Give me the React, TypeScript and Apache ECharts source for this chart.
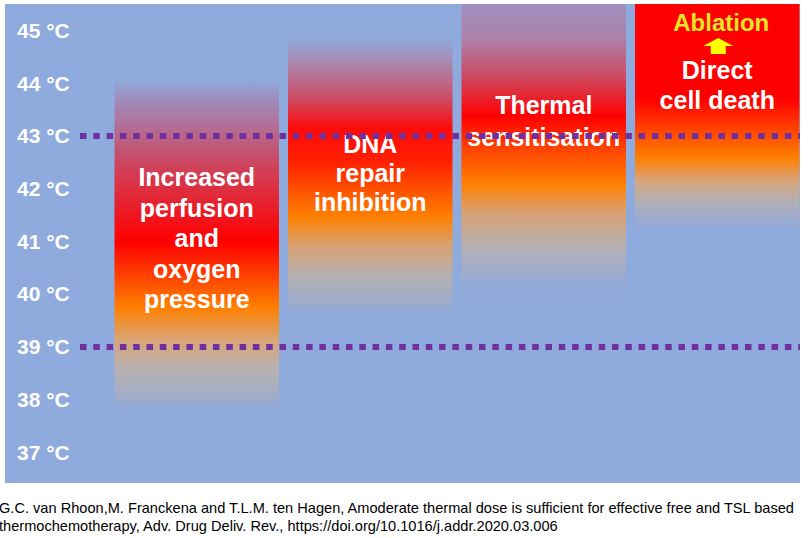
import React, { useEffect, useRef } from 'react';
import * as echarts from 'echarts';

// ---- data ----
const categories = ['Increased perfusion and oxygen pressure', 'DNA repair inhibition', 'Thermal sensitisation', 'Direct cell death'];
const barLabels = ['Increased\nperfusion\nand\noxygen\npressure', 'DNA\nrepair\ninhibition', 'Thermal\nsensitisation', 'Direct\ncell death'];
const rangeLow = [37.8, 39.64, 40.07, 41.21];
const rangeHigh = [44.06, 44.86, 45.5, 45.5];
const thresholds = [43, 39];
const yMin = 37;
const yMax = 45;
const tickUnit = '°C';
const ablationLabel = 'Ablation';
const captionLines = [
  'G.C. van Rhoon,M. Franckena and T.L.M. ten Hagen, Amoderate thermal dose is sufficient for effective free and TSL based',
  'thermochemotherapy, Adv. Drug Deliv. Rev., https://doi.org/10.1016/j.addr.2020.03.006',
];

// ---- styles ----
const BG = '#8FAADC';
const STOPS: [number, string][][] = [
  [[0, BG], [0.06, '#A08CBC'], [0.27, '#D04058'], [0.49, '#FF0000'], [0.58, '#FF3800'], [0.69, '#FF8000'], [0.79, '#D8A678'], [0.88, '#B6B2B4'], [0.95, '#A4ACC4'], [1, BG]],
  [[0, BG], [0.08, '#A88CB6'], [0.22, '#CC4C64'], [0.33, '#FF0A0A'], [0.45, '#FF2000'], [0.65, '#FF8000'], [0.76, '#D8A276'], [0.87, '#B4B0B4'], [0.95, '#A0ACC8'], [1, BG]],
  [[0, '#9E92C2'], [0.12, '#AE80A8'], [0.25, '#CC4C64'], [0.39, '#FF0000'], [0.5, '#FF4000'], [0.63, '#FF8000'], [0.73, '#D8A276'], [0.86, '#B2B0B6'], [0.94, '#9EACCC'], [1, BG]],
  [[0, '#FF0000'], [0.42, '#FF0000'], [0.55, '#FF4000'], [0.68, '#FF8000'], [0.78, '#D8A478'], [0.87, '#B4B0B4'], [0.94, '#9EACCC'], [1, BG]],
];
const LABEL_DY = [-6.5, -2.5, -26, -32];
const LINE_H = [30.5, 29, 32, 30];
const BAR_FONT = 'bold 25px "Liberation Sans", Arial, sans-serif';

export default function App() {
  const ref = useRef<HTMLDivElement>(null);
  useEffect(() => {
    if (!ref.current) return;
    const chart = echarts.init(ref.current, undefined, { renderer: 'svg' });
    const barData = categories.map((_, i) => [i, rangeLow[i], rangeHigh[i]]);
    chart.setOption({
      animation: false,
      backgroundColor: '#ffffff',
      title: {
        text: captionLines.join('\n'),
        left: -1,
        top: 499,
        padding: 0,
        textStyle: { fontSize: 14.6, fontWeight: 'normal', color: '#000', fontFamily: '"Liberation Sans", Arial, sans-serif', lineHeight: 18 },
      },
      graphic: [
        { type: 'rect', z: -10, silent: true, shape: { x: 5, y: 4, width: 795, height: 479 }, style: { fill: BG } },
      ],
      grid: [
        { left: 110, right: 7, top: 30.4, bottom: 86 },
        { left: 80, right: 11, top: 30.4, bottom: 86 },
      ],
      xAxis: [
        { type: 'category', data: categories, gridIndex: 0, show: false },
        { type: 'value', gridIndex: 1, min: 0, max: 1, show: false },
      ],
      yAxis: [
        {
          type: 'value', gridIndex: 0, min: yMin, max: yMax, interval: 1,
          axisLine: { show: false }, axisTick: { show: false }, splitLine: { show: false },
          axisLabel: {
            formatter: (v: number) => `${v} ${tickUnit}`,
            color: '#ffffff', fontSize: 21, fontWeight: 'bold', fontFamily: '"Liberation Sans", Arial, sans-serif',
            align: 'left', margin: 93,
          },
        },
        { type: 'value', gridIndex: 1, min: yMin, max: yMax, show: false },
      ],
      series: [
        {
          type: 'custom',
          xAxisIndex: 0,
          yAxisIndex: 0,
          z: 2,
          clip: false,
          data: barData,
          renderItem: (params: any, api: any) => {
            const i = api.value(0);
            const lo = api.value(1);
            const hi = api.value(2);
            const top = api.coord([i, hi]);
            const bot = api.coord([i, lo]);
            const bw = api.size([1, 0])[0] * 0.948;
            const cx = top[0];
            const children: any[] = [
              {
                type: 'rect',
                shape: { x: cx - bw / 2, y: top[1], width: bw, height: bot[1] - top[1] },
                style: { fill: new echarts.graphic.LinearGradient(0, 0, 0, 1, STOPS[i].map(([o, c]) => ({ offset: o, color: c }))) },
              },
              {
                type: 'text',
                x: cx,
                y: (top[1] + bot[1]) / 2 + LABEL_DY[i],
                style: { text: barLabels[i], fill: '#ffffff', font: BAR_FONT, align: 'center', verticalAlign: 'middle', lineHeight: LINE_H[i] },
              },
            ];
            if (i === categories.length - 1) {
              const ty = top[1];
              children.push({
                type: 'text', x: cx + 4, y: ty + 18,
                style: { text: ablationLabel, fill: '#E8E22A', font: 'bold 24px "Liberation Sans", Arial, sans-serif', align: 'center', verticalAlign: 'middle' },
              });
              const ax = cx + 1;
              children.push({
                type: 'polygon',
                shape: { points: [[ax, ty + 34], [ax + 15, ty + 42], [ax + 7.5, ty + 42], [ax + 7.5, ty + 50], [ax - 7.5, ty + 50], [ax - 7.5, ty + 42], [ax - 15, ty + 42]] },
                style: { fill: '#FFFF00' },
              });
            }
            return { type: 'group', children };
          },
        },
        {
          type: 'line',
          xAxisIndex: 1,
          yAxisIndex: 1,
          data: [],
          z: 5,
          markLine: {
            silent: true,
            symbol: ['none', 'none'],
            label: { show: false },
            lineStyle: { color: '#7030A0', width: 6, type: [6.5, 6.8], cap: 'butt' },
            emphasis: { disabled: true },
            data: thresholds.map((t) => ({ yAxis: t })),
          },
        },
      ],
    });
    return () => chart.dispose();
  }, []);
  return <div ref={ref} style={{ position: 'absolute', left: 0, top: 0, width: 811, height: 538 }} />;
}
